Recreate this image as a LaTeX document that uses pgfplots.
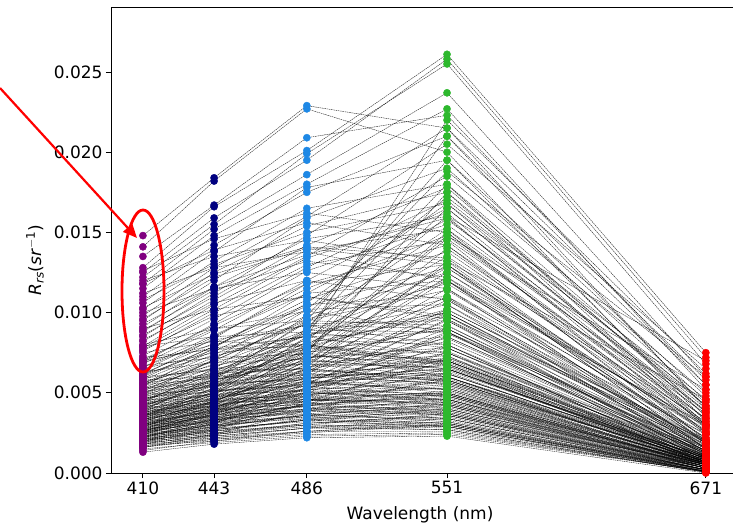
\documentclass[border=0pt]{standalone}
\usepackage{fontspec}
\setmainfont{DejaVu Sans}
\usepackage{pgfplots}
\usepackage{pgfplotstable}
\pgfplotsset{compat=1.18}
\usetikzlibrary{arrows.meta}
\definecolor{cA}{HTML}{800080}
\definecolor{cB}{HTML}{000080}
\definecolor{cC}{HTML}{1E88E5}
\definecolor{cD}{HTML}{2DB82D}
\definecolor{cE}{HTML}{FF0000}

\pgfplotstableread{
a b c d e
0.0148 0.0184 0.0229 0.0215 0.0040
0.0141 0.0182 0.0227 0.0200 0.0032
0.0135 0.0167 0.0209 0.0223 0.0055
0.0128 0.0166 0.0201 0.0261 0.0075
0.0125 0.0159 0.0195 0.0258 0.0072
0.0122 0.0155 0.0199 0.0255 0.0068
0.0118 0.0152 0.0186 0.0237 0.0060
0.0115 0.0148 0.0180 0.0227 0.0052
0.0110 0.0142 0.0175 0.0210 0.0041
0.0106 0.0138 0.0178 0.0195 0.0035
0.0102 0.0132 0.0165 0.0180 0.0030
0.0098 0.0128 0.0160 0.0215 0.0058
0.0095 0.0125 0.0154 0.0175 0.0028
0.0091 0.0120 0.0159 0.0190 0.0045
0.0088 0.0116 0.0146 0.0160 0.0025
0.0085 0.0112 0.0148 0.0205 0.0065
0.0082 0.0108 0.0139 0.0152 0.0020
0.0079 0.0105 0.0135 0.0185 0.0050
0.0076 0.0100 0.0130 0.0145 0.0018
0.0073 0.0096 0.0128 0.0170 0.0042
0.0070 0.0092 0.0118 0.0130 0.0015
0.0068 0.0089 0.0120 0.0165 0.0038
0.0066 0.0086 0.0112 0.0120 0.0012
0.0064 0.0085 0.0115 0.0148 0.0030
0.0062 0.0081 0.0105 0.0110 0.0010
0.0060 0.0079 0.0108 0.0138 0.0026
0.0058 0.0076 0.0102 0.0105 0.0011
0.0056 0.0074 0.0098 0.0125 0.0022
0.0055 0.0072 0.0093 0.0095 0.0009
0.0053 0.0070 0.0096 0.0118 0.0024
0.0052 0.0068 0.0089 0.0088 0.0008
0.0050 0.0066 0.0086 0.0105 0.0019
0.0049 0.0064 0.0083 0.0080 0.0007
0.0048 0.0063 0.0088 0.0120 0.0030
0.0047 0.0061 0.0079 0.0075 0.0006
0.0046 0.0060 0.0081 0.0098 0.0016
0.0045 0.0058 0.0076 0.0070 0.0006
0.0044 0.0057 0.0078 0.0102 0.0020
0.0043 0.0056 0.0073 0.0068 0.0005
0.0042 0.0055 0.0075 0.0090 0.0014
0.0040 0.0058 0.0095 0.0195 0.0048
0.0038 0.0055 0.0090 0.0180 0.0042
0.0036 0.0052 0.0088 0.0210 0.0055
0.0035 0.0050 0.0082 0.0165 0.0036
0.0034 0.0049 0.0085 0.0220 0.0062
0.0033 0.0047 0.0078 0.0150 0.0030
0.0032 0.0046 0.0075 0.0175 0.0040
0.0031 0.0044 0.0072 0.0140 0.0028
0.0030 0.0043 0.0070 0.0130 0.0025
0.0029 0.0042 0.0068 0.0120 0.0022
0.0028 0.0040 0.0065 0.0115 0.0020
0.0027 0.0039 0.0063 0.0108 0.0019
0.0026 0.0038 0.0060 0.0100 0.0017
0.0025 0.0036 0.0058 0.0095 0.0015
0.0024 0.0035 0.0056 0.0090 0.0014
0.0023 0.0033 0.0053 0.0085 0.0013
0.0022 0.0032 0.0050 0.0080 0.0012
0.0021 0.0031 0.0048 0.0075 0.0011
0.0020 0.0029 0.0045 0.0070 0.0010
0.0019 0.0028 0.0043 0.0065 0.0009
0.0060 0.0064 0.0065 0.0058 0.0006
0.0058 0.0060 0.0062 0.0055 0.0005
0.0055 0.0059 0.0061 0.0062 0.0008
0.0053 0.0056 0.0058 0.0050 0.0004
0.0051 0.0055 0.0059 0.0065 0.0009
0.0049 0.0052 0.0054 0.0048 0.0004
0.0047 0.0051 0.0055 0.0059 0.0007
0.0045 0.0049 0.0051 0.0045 0.0003
0.0044 0.0048 0.0052 0.0056 0.0008
0.0043 0.0046 0.0048 0.0042 0.0003
0.0042 0.0045 0.0049 0.0053 0.0006
0.0041 0.0044 0.0046 0.0040 0.0003
0.0040 0.0043 0.0047 0.0050 0.0007
0.0039 0.0042 0.0044 0.0038 0.0002
0.0038 0.0041 0.0045 0.0049 0.0006
0.0037 0.0040 0.0043 0.0037 0.0002
0.0036 0.0039 0.0043 0.0048 0.0005
0.0035 0.0038 0.0041 0.0036 0.0002
0.0034 0.0037 0.0042 0.0046 0.0006
0.0033 0.0036 0.0039 0.0034 0.0002
0.0032 0.0035 0.0040 0.0045 0.0005
0.0031 0.0034 0.0037 0.0032 0.0001
0.0030 0.0033 0.0038 0.0043 0.0005
0.0029 0.0032 0.0035 0.0031 0.0001
0.0028 0.0031 0.0036 0.0042 0.0004
0.0027 0.0030 0.0034 0.0030 0.0001
0.0026 0.0029 0.0035 0.0040 0.0004
0.0025 0.0028 0.0032 0.0029 0.0001
0.0024 0.0027 0.0033 0.0038 0.0003
0.0023 0.0026 0.0030 0.0028 0.0001
0.0022 0.0025 0.0031 0.0036 0.0003
0.0021 0.0024 0.0029 0.0027 0.00005
0.0020 0.0023 0.0028 0.0034 0.0002
0.0019 0.0022 0.0026 0.0026 0.00005
0.0018 0.0021 0.0025 0.0030 0.0002
0.0017 0.0020 0.0024 0.0025 0.0001
0.0015 0.0019 0.0023 0.0024 0.0001
0.0013 0.0018 0.0022 0.0023 0.0000
0.0055 0.0065 0.0075 0.0060 0.0008
0.0050 0.0062 0.0072 0.0078 0.0012
0.0046 0.0058 0.0070 0.0065 0.0009
0.0042 0.0054 0.0066 0.0082 0.0013
0.0039 0.0050 0.0062 0.0058 0.0007
0.0036 0.0047 0.0059 0.0072 0.0010
0.0033 0.0044 0.0056 0.0052 0.0006
0.0030 0.0041 0.0053 0.0068 0.0009
0.0028 0.0038 0.0050 0.0048 0.0005
0.0026 0.0036 0.0048 0.0062 0.0008
0.0024 0.0034 0.0045 0.0046 0.0004
0.0022 0.0032 0.0043 0.0058 0.0007
0.0065 0.0075 0.0080 0.0070 0.0009
0.0070 0.0078 0.0085 0.0088 0.0014
0.0075 0.0082 0.0080 0.0068 0.0007
0.0080 0.0090 0.0095 0.0092 0.0012
0.0090 0.0102 0.0110 0.0098 0.0010
0.0100 0.0115 0.0125 0.0115 0.0013
0.0112 0.0128 0.0138 0.0120 0.0015
0.0120 0.0135 0.0145 0.0132 0.0018
0.0032 0.0045 0.0065 0.0098 0.0020
0.0029 0.0040 0.0055 0.0075 0.0014
0.0026 0.0037 0.0052 0.0088 0.0018
0.0023 0.0030 0.0039 0.0042 0.0003
0.0020 0.0026 0.0034 0.0039 0.0003
0.0018 0.0024 0.0031 0.0035 0.0002
0.0016 0.0022 0.0028 0.0032 0.0002
0.0014 0.0020 0.0026 0.0030 0.00015
0.0035 0.0042 0.0050 0.0055 0.0006
0.0038 0.0046 0.0056 0.0064 0.0009
0.0041 0.0050 0.0060 0.0070 0.0011
0.0046 0.0055 0.0064 0.0060 0.0006
0.0052 0.0060 0.0068 0.0066 0.0007
0.0057 0.0067 0.0077 0.0085 0.0013
0.0062 0.0073 0.0086 0.0100 0.0018
0.0069 0.0080 0.0092 0.0090 0.0010
0.0025 0.0033 0.0042 0.0050 0.0005
0.0022 0.0029 0.0036 0.0033 0.0001
0.0020 0.0027 0.0033 0.0029 0.00005
0.0027 0.0034 0.0040 0.0037 0.0002
0.0031 0.0039 0.0046 0.0044 0.0003
0.0036 0.0044 0.0052 0.0049 0.0004
0.0086 0.0110 0.0142 0.0178 0.0038
0.0078 0.0102 0.0134 0.0162 0.0031
0.0069 0.0093 0.0126 0.0155 0.0034
0.0061 0.0084 0.0118 0.0142 0.0029
0.0054 0.0078 0.0112 0.0158 0.0039
0.0049 0.0071 0.0106 0.0168 0.0044
0.0044 0.0065 0.0102 0.0172 0.0046
0.0039 0.0059 0.0094 0.0152 0.0037
0.0034 0.0051 0.0084 0.0135 0.0032
0.0029 0.0044 0.0074 0.0125 0.0027
0.0026 0.0040 0.0068 0.0110 0.0024
0.0024 0.0037 0.0062 0.0102 0.0021
0.0059 0.0079 0.0104 0.0128 0.0020
0.0051 0.0070 0.0095 0.0114 0.0017
0.0045 0.0062 0.0086 0.0109 0.0016
0.0040 0.0056 0.0079 0.0100 0.0015
0.0036 0.0050 0.0071 0.0092 0.0014
0.0032 0.0045 0.0064 0.0084 0.0012
0.0029 0.0041 0.0058 0.0078 0.0011
0.0026 0.0037 0.0053 0.0071 0.0010
0.0096 0.0122 0.0140 0.0130 0.0015
0.0089 0.0114 0.0132 0.0122 0.0013
0.0083 0.0106 0.0120 0.0108 0.0011
0.0077 0.0098 0.0110 0.0096 0.0009
0.0071 0.0090 0.0101 0.0088 0.0008
0.0066 0.0083 0.0092 0.0080 0.0007
0.0061 0.0077 0.0085 0.0073 0.0006
0.0056 0.0070 0.0078 0.0067 0.0005
0.0126 0.0146 0.0162 0.0150 0.0024
0.0118 0.0139 0.0156 0.0142 0.0021
0.0108 0.0130 0.0150 0.0168 0.0033
0.0103 0.0124 0.0141 0.0134 0.0019
0.0093 0.0116 0.0136 0.0159 0.0030
0.0048 0.0054 0.0060 0.0056 0.0005
0.0045 0.0051 0.0057 0.0052 0.0004
0.0043 0.0049 0.0056 0.0062 0.0008
0.0040 0.0047 0.0054 0.0058 0.0007
0.0038 0.0044 0.0050 0.0046 0.0003
0.0036 0.0042 0.0048 0.0053 0.0006
0.0034 0.0040 0.0046 0.0043 0.0003
0.0032 0.0038 0.0045 0.0051 0.0006
0.0030 0.0036 0.0042 0.0039 0.0002
0.0029 0.0035 0.0042 0.0049 0.0005
0.0027 0.0033 0.0039 0.0036 0.0002
0.0026 0.0032 0.0039 0.0046 0.0005
0.0024 0.0030 0.0036 0.0034 0.00015
0.0023 0.0029 0.0036 0.0043 0.0004
0.0021 0.0027 0.0033 0.0031 0.0001
0.0020 0.0026 0.0033 0.0040 0.0004
0.0019 0.0025 0.0030 0.0029 0.0001
0.0018 0.0024 0.0030 0.0037 0.0003
0.0017 0.0023 0.0028 0.0027 0.00005
0.0016 0.0021 0.0026 0.0031 0.0002
0.0053 0.0061 0.0072 0.0076 0.0010
0.0049 0.0058 0.0069 0.0073 0.0010
0.0046 0.0055 0.0066 0.0070 0.0009
0.0043 0.0052 0.0063 0.0067 0.0009
0.0039 0.0048 0.0059 0.0065 0.0008
0.0037 0.0046 0.0057 0.0060 0.0007
0.0033 0.0042 0.0052 0.0057 0.0007
0.0030 0.0039 0.0049 0.0054 0.0006
0.0028 0.0036 0.0046 0.0050 0.0005
0.0025 0.0033 0.0043 0.0047 0.0005
0.0023 0.0031 0.0040 0.0044 0.0004
0.0021 0.0028 0.0037 0.0041 0.0004
0.0063 0.0069 0.0071 0.0063 0.0006
0.0059 0.0065 0.0068 0.0060 0.0005
0.0056 0.0062 0.0065 0.0057 0.0005
0.0067 0.0072 0.0074 0.0065 0.0007
0.0072 0.0077 0.0079 0.0069 0.0008
0.0079 0.0085 0.0088 0.0078 0.0009
0.0037 0.0053 0.0080 0.0128 0.0026
0.0033 0.0049 0.0077 0.0146 0.0034
0.0027 0.0042 0.0070 0.0122 0.0029
0.0022 0.0034 0.0055 0.0096 0.0019
0.0020 0.0031 0.0051 0.0087 0.0016
0.0018 0.0027 0.0044 0.0072 0.0013
0.0016 0.0024 0.0039 0.0060 0.0010
0.0041 0.0060 0.0098 0.0188 0.0060
0.0030 0.0045 0.0076 0.0148 0.0052
0.0025 0.0038 0.0066 0.0132 0.0046
0.0035 0.0053 0.0089 0.0160 0.0070
}\spectra
\pgfplotstabletranspose\spectraT\spectra
\pgfplotstablecreatecol[create col/set list={410,443,486,551,671}]{wl}\spectraT
\pgfplotstablegetcolsof{\spectraT}
\pgfmathtruncatemacro\nspec{\pgfplotsretval-2}

\begin{document}
\begin{tikzpicture}
\path[use as bounding box] (-111bp,-53bp) rectangle (622bp,473bp);
\begin{axis}[
  scale only axis, width=630bp, height=466bp,
  xmin=395.2, xmax=687.3, ymin=0, ymax=0.02905,
  xtick={410,443,486,551,671},
  ytick={0,0.005,0.01,0.015,0.02,0.025},
  scaled y ticks=false,
  yticklabel style={/pgf/number format/fixed, /pgf/number format/precision=3, /pgf/number format/fixed zerofill},
  /pgf/number format/assume math mode=true,
  tick align=outside, tick pos=left, major tick length=5bp,
  axis line style={black, line width=0.9bp},
  every tick/.style={black, line width=0.9bp},
  ticklabel style={font=\fontsize{17bp}{20bp}\selectfont},
  xlabel={Wavelength (nm)},
  ylabel={\textit{R}\textsubscript{\textit{rs}}(\textit{sr}\textsuperscript{$-$1})},
  every axis x label/.style={at={(axis description cs:0.4905,0)}, yshift=-42bp, anchor=center, font=\fontsize{17bp}{20bp}\selectfont},
  every axis y label/.style={at={(axis description cs:0,0.457)}, xshift=-76bp, rotate=90, anchor=center, font=\fontsize{17bp}{20bp}\selectfont},
]
\pgfplotsinvokeforeach{1,...,\nspec}{
  \addplot[black, opacity=0.85, line width=0.4pt, dash pattern=on 1.6pt off 0.7pt, forget plot] table[x=wl, y index=#1]{\spectraT};
}
\addplot[only marks, mark=*, mark size=3.6bp, mark options={draw=cA, fill=cA}] table[x expr=410, y=a]{\spectra};
\addplot[only marks, mark=*, mark size=3.6bp, mark options={draw=cB, fill=cB}] table[x expr=443, y=b]{\spectra};
\addplot[only marks, mark=*, mark size=3.6bp, mark options={draw=cC, fill=cC}] table[x expr=486, y=c]{\spectra};
\addplot[only marks, mark=*, mark size=3.6bp, mark options={draw=cD, fill=cD}] table[x expr=551, y=d]{\spectra};
\addplot[only marks, mark=*, mark size=3.6bp, mark options={draw=cE, fill=cE}] table[x expr=671, y=e]{\spectra};
\end{axis}
\draw[red, line width=2.2bp, -{Triangle[length=14bp, width=12bp]}] (-111bp,385bp) -- (26bp,235bp);
\draw[red, line width=2.8bp] (32bp,182bp) ellipse [x radius=21bp, y radius=81bp];
\end{tikzpicture}
\end{document}
